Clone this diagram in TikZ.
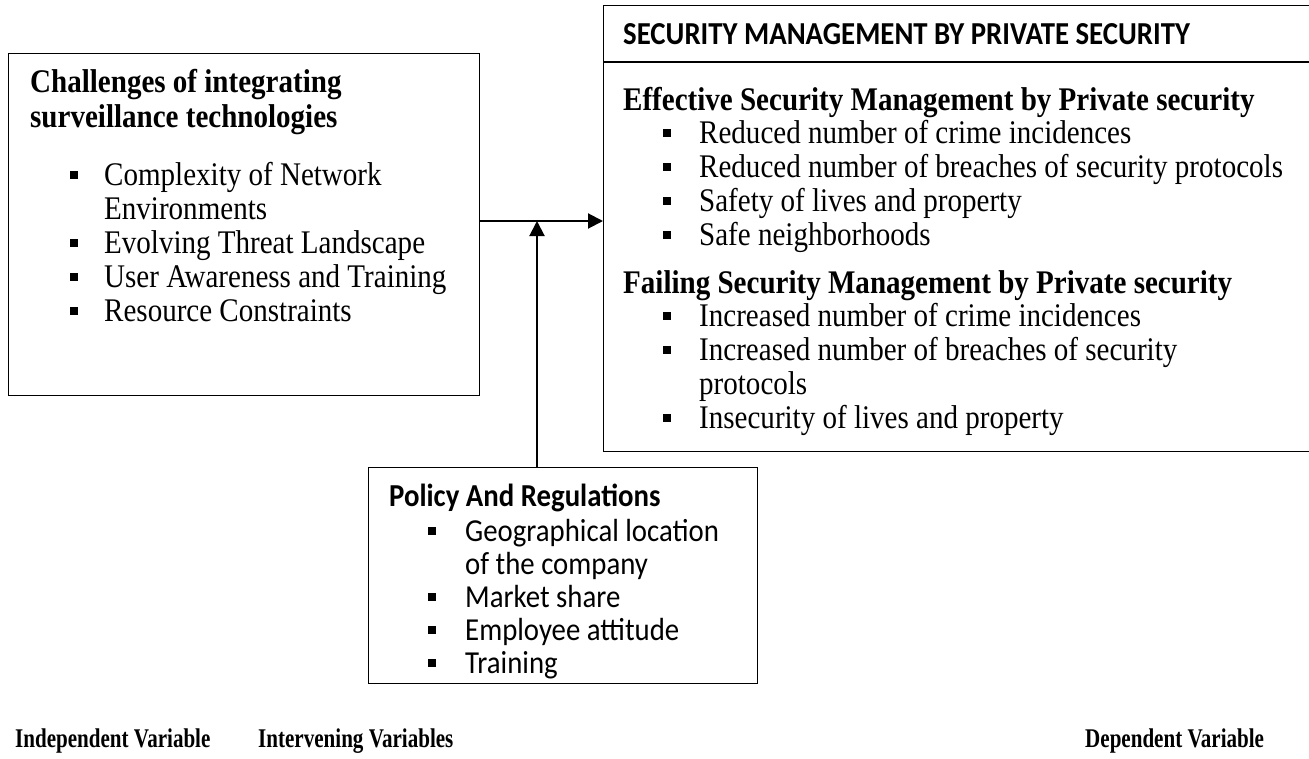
\documentclass[tikz,border=0pt]{standalone}
\usepackage{fontspec}
\setmainfont{Liberation Serif}[FakeStretch=0.88]
\newfontfamily\calibri{Carlito}[FakeStretch=0.9]
\newfontfamily\labfont{Liberation Serif}[FakeStretch=0.78]
\usetikzlibrary{arrows.meta}
% small square list marker
\newcommand\sqbullet{\rule[0.18em]{0.25em}{0.25em}}
\newcommand\bl[1]{\llap{\sqbullet\hspace*{#1}}}
\begin{document}
\begin{tikzpicture}[x=1pt,y=-1pt,
  box/.style={draw, line width=1.3pt, inner sep=0pt, anchor=north west},
  txt/.style={anchor=base west, inner sep=0pt, font=\fontsize{33}{34}\selectfont},
  head/.style={txt, font=\fontsize{33}{34}\selectfont\bfseries},
  chead/.style={txt, font=\fontsize{32}{34}\selectfont\calibri\bfseries},
  ctxt/.style={txt, font=\fontsize{32}{34}\selectfont\calibri},
  lab/.style={txt, font=\fontsize{27}{30}\selectfont\labfont\bfseries},
  conn/.style={line width=2pt, -{Triangle[length=15pt,width=15pt]}}]
\useasboundingbox (0,0) rectangle (1309,758);

% independent variable box
\node[box, minimum width=471pt, minimum height=342pt] (ind) at (8,53) {};
\node[head] (indh1) at (30,92) {Challenges of integrating};
\node[head] (indh2) at (30,127) {surveillance technologies};
\node[txt] (ind1) at (104,185) {\bl{26pt}Complexity of Network};
\node[txt] (ind1b) at (104,219) {Environments};
\node[txt] (ind2) at (104,253) {\bl{26pt}Evolving Threat Landscape};
\node[txt] (ind3) at (104,287) {\bl{26pt}User Awareness and Training};
\node[txt] (ind4) at (104,321) {\bl{26pt}Resource Constraints};

% dependent variable box
\node[box, minimum width=708pt, minimum height=446pt] (dep) at (603,5) {};
\coordinate (divy) at (0,62);
\draw[line width=1.3pt] (dep.west |- divy) -- (dep.east |- divy);
\node[chead] (deph) at (623,44) {SECURITY MANAGEMENT BY PRIVATE SECURITY};
\node[head] (eff) at (623,110) {Effective Security Management by Private security};
\node[txt] (eff1) at (699,143) {\bl{28pt}Reduced number of crime incidences};
\node[txt] (eff2) at (699,177) {\bl{28pt}Reduced number of breaches of security protocols};
\node[txt] (eff3) at (699,211) {\bl{28pt}Safety of lives and property};
\node[txt] (eff4) at (699,245) {\bl{28pt}Safe neighborhoods};
\node[head] (fail) at (623,293) {Failing Security Management by Private security};
\node[txt] (fail1) at (699,326) {\bl{28pt}Increased number of crime incidences};
\node[txt] (fail2) at (699,360) {\bl{28pt}Increased number of breaches of security};
\node[txt] (fail2b) at (699,394) {protocols};
\node[txt] (fail3) at (699,428) {\bl{28pt}Insecurity of lives and property};

% intervening variable box
\node[box, minimum width=389pt, minimum height=216pt] (int) at (368,467) {};
\node[chead] (inth) at (389,506) {Policy And Regulations};
\node[ctxt] (int1) at (465,541) {\bl{29pt}Geographical location};
\node[ctxt] (int1b) at (465,574) {of the company};
\node[ctxt] (int2) at (465,607) {\bl{29pt}Market share};
\node[ctxt] (int3) at (465,640) {\bl{29pt}Employee attitude};
\node[ctxt] (int4) at (465,673) {\bl{29pt}Training};

% connectors
\coordinate (arry) at (0,221);
\coordinate (join) at (537,221);
\draw[conn] (ind.east |- arry) -- (dep.west |- arry);
\draw[conn] (int.north -| join) -- (join);

% variable labels
\node[lab] (labind) at (15,747) {Independent Variable};
\node[lab] (labint) at (258,747) {Intervening Variables};
\node[lab] (labdep) at (1085,747) {Dependent Variable};
\end{tikzpicture}
\end{document}
